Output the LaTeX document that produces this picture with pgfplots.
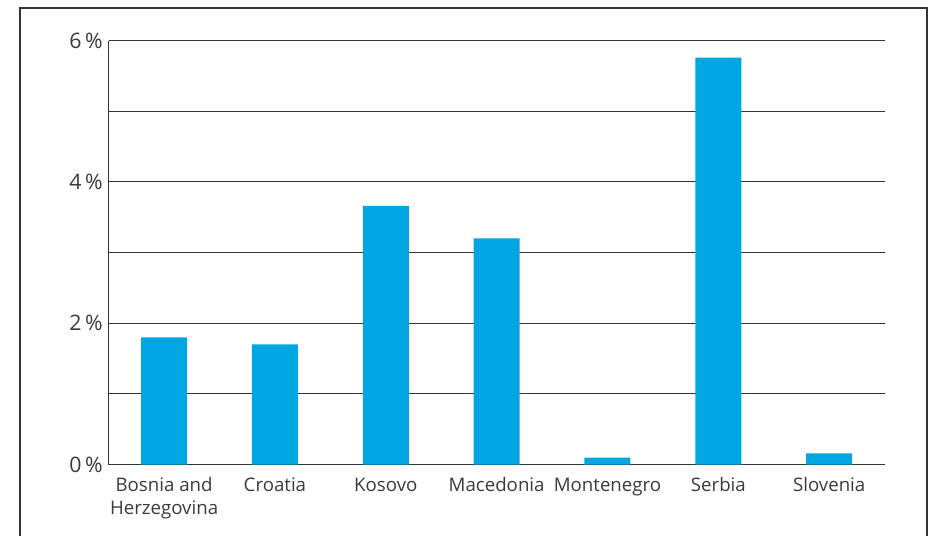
\documentclass[border=0pt]{standalone}
\usepackage{fontspec}
\setmainfont{Open Sans}
\usepackage{pgfplots}
\pgfplotsset{compat=1.18}
\definecolor{barblue}{HTML}{00A6E2}
\definecolor{txtgray}{HTML}{3A3A3A}
\definecolor{linegray}{HTML}{333333}
\begin{document}
\begin{tikzpicture}[x=0.75pt,y=0.75pt]
\path[use as bounding box] (0,0) rectangle (928,536);
\draw[linegray, line width=1.2pt] (20,0) -- (20,528) -- (927,528) -- (927,0);
\begin{axis}[
    at={(98,101)}, anchor=south west,
    scale only axis,
    width=582pt, height=318pt,
    ybar, bar width=34.5pt, bar shift=0pt,
    xmin=-0.5, xmax=6.5, ymin=0, ymax=6,
    axis x line*=bottom, axis y line*=left,
    axis line style={linegray, line width=0.8pt, -},
    xtick={0,...,6},
    xticklabels={{Bosnia and\\Herzegovina},Croatia,Kosovo,Macedonia,Montenegro,Serbia,Slovenia},
    xticklabel style={align=center, font=\fontsize{14}{17}\selectfont, text=txtgray, yshift=-2pt},
    major x tick style={draw=none},
    extra x ticks={0.5,1.5,2.5,3.5,4.5,5.5,6.5},
    extra x tick labels={},
    extra x tick style={tick align=inside, major tick length=6pt, tick style={linegray, line width=0.8pt}, grid=none},
    ytick={0,2,4,6}, minor ytick={1,3,5},
    ymajorgrids, yminorgrids,
    major grid style={linegray, line width=0.7pt},
    minor grid style={linegray, line width=0.7pt},
    y tick style={draw=none},
    yticklabel={\pgfmathprintnumber{\tick}\,\%},
    yticklabel style={font=\fontsize{16}{18}\selectfont, text=txtgray, xshift=-1pt},
    /pgf/number format/assume math mode=true,
    clip=false,
]
\addplot[fill=barblue, draw=none] coordinates {(0,1.80) (1,1.70) (2,3.66) (3,3.20) (4,0.10) (5,5.76) (6,0.16)};
\end{axis}
\end{tikzpicture}
\end{document}
